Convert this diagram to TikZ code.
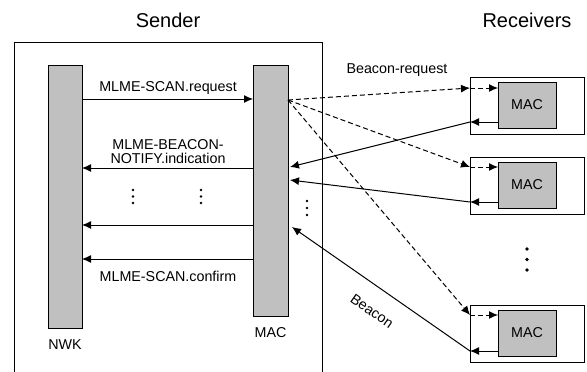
\documentclass[tikz,border=0pt]{standalone}
\usepackage{fontspec}
\setmainfont{Liberation Sans}
\usetikzlibrary{arrows.meta}
\begin{document}
\begin{tikzpicture}[x=1pt,y=-1pt,
  every node/.style={inner sep=0pt,outer sep=0pt},
  bar/.style={draw,line width=1pt,fill=barfill,minimum width=34pt},
  rbox/.style={draw,line width=1pt,minimum width=114pt,minimum height=57pt},
  rmac/.style={draw,line width=1pt,fill=barfill,minimum width=58pt,minimum height=46pt,font=\fontsize{14.3}{16}\selectfont},
  lbl/.style={font=\fontsize{14.3}{16}\selectfont},
  title/.style={font=\fontsize{20}{22}\selectfont},
  arr/.style={line width=1pt,-{Latex[length=9pt,width=8pt]}},
  darr/.style={arr,dash pattern=on 5pt off 3pt},
  dot/.style={circle,fill=black,minimum size=2.8pt}]
\definecolor{barfill}{HTML}{C0C0C0}
\useasboundingbox (0,0) rectangle (587,372);
% sender frame
\draw[line width=1pt] (14,380) -- (14,42) -- (322,42) -- (322,380);
\node[title] (sender) at (168,20) {Sender};
\node[title] (receivers) at (527,20) {Receivers};
% bars
\node[bar,minimum height=263pt] (nwk) at (65,196.5) {};
\node[bar,minimum width=35pt,minimum height=251pt] (mac) at (270.5,190.5) {};
\node[lbl] (nwkl) at (65,345) {NWK};
\node[lbl] (macl) at (270.5,333) {MAC};
% y levels
\coordinate (y1) at (0,99);
\coordinate (y2) at (0,168);
\coordinate (y3) at (0,225);
\coordinate (y4) at (0,259);
\draw[arr] (nwk.east |- y1) -- (mac.west |- y1);
\draw[arr] (mac.west |- y2) -- (nwk.east |- y2);
\draw[arr] (mac.west |- y3) -- (nwk.east |- y3);
\draw[arr] (mac.west |- y4) -- (nwk.east |- y4);
\node[lbl] (t1) at (168,88) {MLME-SCAN.request};
\node[lbl,align=center] (t2) at (168,151.5) {MLME-BEACON-\\[-1.5pt]NOTIFY.indication};
\node[lbl] (t3) at (168,276) {MLME-SCAN.confirm};
% dots in sender
\node[dot] (d1) at (133,190) {};
\node[dot] (d2) at (133,196.5) {};
\node[dot] (d3) at (133,203) {};
\node[dot] (d4) at (201,190) {};
\node[dot] (d5) at (201,196.5) {};
\node[dot] (d6) at (201,203) {};
\node[dot] (d7) at (307,201) {};
\node[dot] (d8) at (307,208) {};
\node[dot] (d9) at (307,215) {};
% receivers
\node[rbox] (r1) at (527,105.5) {};
\node[rmac] (m1) at (527,105) {MAC};
\node[rbox] (r2) at (527,185.5) {};
\node[rmac] (m2) at (527,185) {MAC};
\node[rbox] (r3) at (527,333.5) {};
\node[rmac] (m3) at (527,333) {MAC};
\node[dot,minimum size=3.6pt] (e1) at (527,249) {};
\node[dot,minimum size=3.6pt] (e2) at (527,259.5) {};
\node[dot,minimum size=3.6pt] (e3) at (527,270) {};
% beacon request (dashed)
\coordinate (o) at (288,100);
\coordinate (a1) at (0,88);
\coordinate (a2) at (0,167);
\coordinate (a3) at (0,315);
\draw[darr] (o) -- (r1.west |- a1);
\draw[darr] (r1.west |- a1) -- (m1.west |- a1);
\draw[darr] (o) -- (r2.west |- a2);
\draw[darr] (r2.west |- a2) -- (m2.west |- a2);
\draw[darr] (o) -- (r3.west |- a3);
\draw[darr] (r3.west |- a3) -- (m3.west |- a3);
% beacons (solid)
\coordinate (b1) at (0,122);
\coordinate (b2) at (0,202);
\coordinate (b3) at (0,351);
\coordinate (c1) at (290,167);
\coordinate (c2) at (290,180);
\coordinate (c3) at (292,227);
\draw[arr] (m1.west |- b1) -- (r1.west |- b1);
\draw[arr] (r1.west |- b1) -- (c1);
\draw[arr] (m2.west |- b2) -- (r2.west |- b2);
\draw[arr] (r2.west |- b2) -- (c2);
\draw[arr] (m3.west |- b3) -- (r3.west |- b3);
\draw[arr] (r3.west |- b3) -- (c3);
\node[lbl] (brq) at (397,70) {Beacon-request};
\node[lbl,rotate=-35] (bcn) at (372,311) {Beacon};
\end{tikzpicture}
\end{document}
